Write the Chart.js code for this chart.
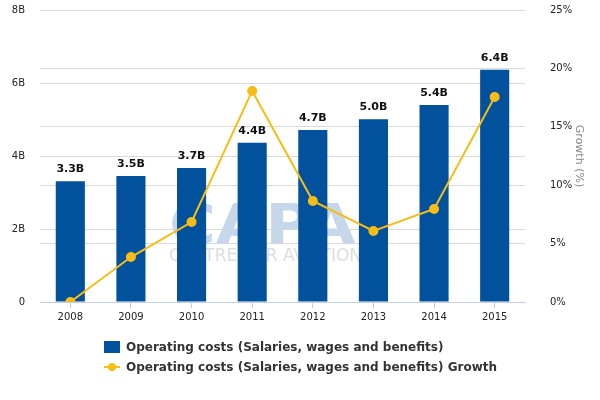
<!DOCTYPE html>
<html>
<head>
<meta charset="utf-8">
<script src="https://cdn.jsdelivr.net/npm/chart.js@4"></script>
<style>
  html, body { margin: 0; padding: 0; background: #ffffff; }
  #wrap { position: relative; width: 600px; height: 400px; }
  #c { position: absolute; left: 0; top: 0; }
  #legend { position: absolute; left: 104px; top: 337px; font: bold 12px "DejaVu Sans", sans-serif; color: #333; }
  .item { display: flex; align-items: center; height: 20px; white-space: nowrap; }
  .sw { width: 16px; height: 12px; margin-right: 6px; position: relative; }
</style>
</head>
<body>
<div id="wrap">
  <canvas id="c" width="600" height="400"></canvas>
  <div id="legend"></div>
</div>
<script>
const categories = ['2008', '2009', '2010', '2011', '2012', '2013', '2014', '2015'];
const costsBillions = [3.31, 3.45, 3.67, 4.36, 4.71, 5.01, 5.40, 6.36];
const growthPct = [0.0, 3.85, 6.85, 18.07, 8.65, 6.08, 7.96, 17.55];
const leftTicks = [0, 2, 4, 6, 8];
const rightTicks = [0, 5, 10, 15, 20, 25];
const barLabel = 'Operating costs (Salaries, wages and benefits)';
const lineLabel = 'Operating costs (Salaries, wages and benefits) Growth';

const BAR_COLOR = '#02519c';
const LINE_COLOR = '#f7bd16';
const GRID = '#dadada';
const AXIS = '#c0d0e0';
const FONT = '"DejaVu Sans", sans-serif';
const CLEAR = 'rgba(0,0,0,0)';

const watermark = {
  id: 'watermark',
  beforeDatasetsDraw(chart) {
    const ctx = chart.ctx;
    ctx.save();
    ctx.textAlign = 'left';
    ctx.textBaseline = 'alphabetic';
    ctx.fillStyle = '#c6d7ea';
    ctx.translate(169, 243);
    ctx.scale(1.14, 1);
    ctx.font = 'bold 56px ' + FONT;
    ctx.fillText('CAPA', 0, 0);
    ctx.restore();
    ctx.save();
    ctx.fillStyle = '#dddddd';
    ctx.font = '17px ' + FONT;
    ctx.textBaseline = 'alphabetic';
    ctx.fillText('CENTRE FOR AVIATION', 169, 261);
    ctx.restore();
  }
};

const barLabels = {
  id: 'barLabels',
  afterDatasetsDraw(chart) {
    const ctx = chart.ctx;
    const meta = chart.getDatasetMeta(1);
    ctx.save();
    ctx.font = 'bold 11px ' + FONT;
    ctx.fillStyle = '#111111';
    ctx.textAlign = 'center';
    ctx.textBaseline = 'alphabetic';
    meta.data.forEach((el, i) => {
      ctx.fillText(costsBillions[i].toFixed(1) + 'B', el.x, el.y - 9);
    });
    ctx.restore();
  }
};

const chart = new Chart(document.getElementById('c'), {
  data: {
    labels: categories,
    datasets: [
      {
        type: 'line',
        label: lineLabel,
        data: growthPct,
        yAxisID: 'y1',
        borderColor: LINE_COLOR,
        backgroundColor: LINE_COLOR,
        borderWidth: 2,
        pointRadius: 4,
        pointBackgroundColor: LINE_COLOR,
        pointBorderColor: LINE_COLOR,
        tension: 0,
        order: 0
      },
      {
        type: 'bar',
        label: barLabel,
        data: costsBillions,
        yAxisID: 'y',
        backgroundColor: BAR_COLOR,
        barPercentage: 0.48,
        categoryPercentage: 1.0,
        order: 1
      }
    ]
  },
  options: {
    responsive: false,
    animation: false,
    layout: { padding: { left: 0, right: 11, top: 10, bottom: 72 } },
    plugins: {
      legend: { display: false },
      tooltip: { enabled: false }
    },
    scales: {
      x: {
        offset: true,
        grid: { offset: false, drawOnChartArea: false, drawTicks: true, tickLength: 6, color: AXIS },
        border: { display: true, color: AXIS, width: 1 },
        ticks: { font: { family: FONT, size: 10 }, color: '#222', padding: 3, maxRotation: 0 },
        afterFit(s) { s.height = 26; }
      },
      y: {
        position: 'left',
        min: 0, max: 8,
        afterBuildTicks(s) { s.ticks = leftTicks.map(v => ({ value: v })); },
        ticks: {
          font: { family: FONT, size: 10 }, color: '#222', padding: 0,
          callback: v => v === 0 ? '0' : v + 'B'
        },
        grid: {
          drawTicks: true, tickLength: 15, tickColor: CLEAR,
          color: ctx => ctx.tick && ctx.tick.value === 0 ? CLEAR : GRID
        },
        border: { display: false },
        afterFit(s) { s.width = 40; }
      },
      y1: {
        position: 'right',
        min: 0, max: 25,
        afterBuildTicks(s) { s.ticks = rightTicks.map(v => ({ value: v })); },
        ticks: {
          font: { family: FONT, size: 10 }, color: '#222', padding: 0,
          callback: v => v + '%'
        },
        title: { display: true, text: 'Growth (%)', color: '#888', font: { family: FONT, size: 11 }, padding: { top: 4, bottom: 0 } },
        grid: {
          drawTicks: true, tickLength: 25, tickColor: CLEAR,
          color: ctx => ctx.tick && ctx.tick.value === 0 ? CLEAR : GRID
        },
        border: { display: false },
        afterFit(s) { s.width = 64; }
      }
    }
  },
  plugins: [watermark, barLabels]
});

// HTML legend built from the datasets
const legend = document.getElementById('legend');
[1, 0].forEach(idx => {
  const ds = chart.data.datasets[idx];
  const item = document.createElement('div');
  item.className = 'item';
  const sw = document.createElement('span');
  sw.className = 'sw';
  if (ds.type === 'bar') {
    sw.style.background = ds.backgroundColor;
  } else {
    sw.innerHTML = '<span style="position:absolute;left:0;top:5px;width:16px;height:2px;background:' + ds.borderColor + '"></span>' +
      '<span style="position:absolute;left:4px;top:2px;width:8px;height:8px;border-radius:50%;background:' + ds.borderColor + '"></span>';
  }
  const txt = document.createElement('span');
  txt.textContent = ds.label;
  item.appendChild(sw);
  item.appendChild(txt);
  legend.appendChild(item);
});
</script>
</body>
</html>
